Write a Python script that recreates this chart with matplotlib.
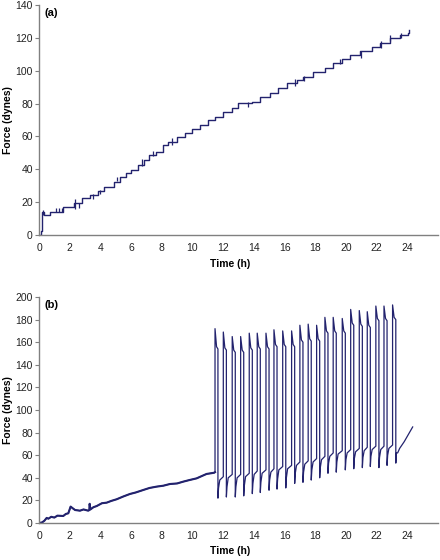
import numpy as np
import matplotlib
matplotlib.use("Agg")
import matplotlib.pyplot as plt

plt.rcParams['font.family'] = ['Liberation Sans', 'DejaVu Sans']

line_color = '#23236e'

# (a) staircase: time (h) where each step starts, force level (dynes)
t_steps = [0, 0.12, 0.22, 0.30, 0.72, 1.55, 2.3, 2.82, 3.32, 3.85, 4.26, 4.9, 5.3,
           5.7, 6.0, 6.43, 6.86, 7.19, 7.62, 8.05, 8.4, 8.97, 9.51, 9.95, 10.49,
           11.03, 11.47, 11.97, 12.55, 12.99, 13.85, 14.4, 15.05, 15.59, 16.14,
           16.79, 17.22, 17.87, 18.63, 19.17, 19.72, 20.26, 20.91, 21.67, 22.2,
           22.87, 23.52, 24.06, 24.12]
f_steps = [0, 2.6, 14.2, 12.2, 14.2, 17.2, 19.3, 22.5, 24.6, 26.7, 29.4, 32.4, 35.5,
           37.5, 39.6, 42.6, 45.6, 48.7, 50.7, 54.8, 56.8, 59.8, 61.9, 64.3, 67,
           70, 72, 75, 77.1, 80.1, 81.1, 84.2, 86.6, 89.3, 92.7,
           94.3, 96.3, 99.4, 101.4, 104.5, 106.9, 109.6, 112.2, 114.6, 117,
           119.7, 121.7, 123.1, 125]

# small spikes on the staircase
t_spikes = [0.25, 1.1, 1.3, 1.5, 2.35, 2.6, 3.5, 4.0, 5.1, 6.7, 7.4, 8.65,
            13.6, 16.7, 17.3, 19.6, 21.0, 22.3, 22.9, 23.6]
spike_lo = [12, 14, 14, 14, 16, 16.5, 22, 25, 33, 42, 48, 55,
            78, 91, 94, 104, 108, 114, 118, 120]
spike_hi = [15.5, 16.5, 16.5, 16.5, 22, 19.5, 25, 27.5, 35.5, 46, 51, 59,
            81, 95, 97, 107, 112, 118, 122, 123]

# (b) slow rise before oscillations
t_slow = [0, 0.2, 0.35, 0.5, 0.61, 0.8, 1.0, 1.2, 1.58, 1.75, 1.91, 2.06, 2.2,
          2.35, 2.67, 2.9, 3.21, 3.28, 3.3, 3.35, 3.55, 3.76, 4.1, 4.41, 4.7,
          5.06, 5.5, 5.93, 6.3, 6.79, 7.2, 7.67, 8.1, 8.53, 9.0, 9.4, 9.8,
          10.27, 10.6, 10.92, 11.2, 11.42, 11.47]
f_slow = [0, 0.5, 2, 4.5, 3.8, 5.5, 4.8, 6.5, 6.2, 8, 8.6, 14.5, 13,
          11.5, 10.9, 12, 10.9, 11.5, 17, 12, 14, 15, 17.5, 18, 19.5,
          21, 23.5, 25.7, 27, 29.2, 31, 32.2, 33, 34.5, 35, 36.6, 38,
          39.5, 41.5, 43.4, 44, 44.5, 45]

# (b) oscillation cycles
t_up = [11.47, 12.01, 12.59, 13.14, 13.70, 14.22, 14.79, 15.31, 15.88, 16.46, 17.00,
        17.54, 18.09, 18.63, 19.17, 19.76, 20.31, 20.87, 21.39, 21.95, 22.48, 23.04]
t_down = [11.66, 12.21, 12.79, 13.34, 13.90, 14.42, 14.99, 15.51, 16.08, 16.66, 17.20,
          17.74, 18.29, 18.83, 19.37, 19.96, 20.51, 21.07, 21.59, 22.15, 22.68, 23.25]
peak = [172, 169, 165, 165, 168, 168, 168, 171, 170, 170, 175,
        176, 175, 182, 182, 181, 189, 188, 187, 192, 192, 193]
shoulder = [156, 155, 153, 153, 155, 156, 156, 158, 158, 158, 162,
            163, 163, 170, 170, 170, 177, 176, 175, 181, 181, 182]
trough = [22, 23, 23, 24, 26, 27, 29, 30, 31, 35, 36,
          38, 40, 44, 45, 47, 48, 49, 50, 49, 51, 53]
recovered = [38, 40, 40, 41, 43, 44, 45, 47, 48, 51, 52,
             54, 56, 59, 61, 62, 63, 64, 65, 65, 66, 62]

# (b) final ramp after the last cycle
t_end = [23.5, 23.8, 24.1, 24.35]
f_end = [66, 72, 79, 85]

# build the oscillating trace
tb = list(t_slow)
fb = list(f_slow)
for i in range(len(t_up)):
    tb += [t_up[i], t_up[i] + 0.1, t_down[i], t_down[i], t_down[i] + 0.04, t_down[i] + 0.12]
    fb += [peak[i], shoulder[i], shoulder[i] - 2, trough[i], trough[i] + 9, recovered[i]]
    if i + 1 < len(t_up):
        tb += [t_up[i + 1]]
        fb += [recovered[i] + 3]
tb += t_end
fb += f_end

fig = plt.figure(figsize=(4.4, 5.6), dpi=100)
ax1 = fig.add_axes([39 / 440, 1 - 235 / 560, 399 / 440, 230 / 560])
ax2 = fig.add_axes([39 / 440, 1 - 523 / 560, 399 / 440, 226 / 560])

ax1.plot(t_steps, f_steps, drawstyle='steps-post', color=line_color, lw=1.0)
ax1.vlines(t_spikes, spike_lo, spike_hi, color=line_color, lw=0.9)
ax1.set_ylim(0, 140)
ax1.set_yticks(np.arange(0, 141, 20))

ax2.plot(tb, fb, color=line_color, lw=0.9)
ax2.plot(t_slow, f_slow, color=line_color, lw=1.5)
ax2.set_ylim(0, 200)
ax2.set_yticks(np.arange(0, 201, 20))

for ax, lab in [(ax1, '(a)'), (ax2, '(b)')]:
    ax.set_xlim(0, 26)
    ax.set_xticks(np.arange(0, 25, 2))
    for s in ['top', 'right']:
        ax.spines[s].set_visible(False)
    for s in ['left', 'bottom']:
        ax.spines[s].set_color('#808080')
        ax.spines[s].set_linewidth(1.0)
    ax.tick_params(axis='y', length=3, width=0.8, color='#808080', labelsize=7.5,
                   labelcolor='#222222', pad=1.5)
    ax.tick_params(axis='x', length=0, labelsize=7.5, labelcolor='#222222', pad=6)
    ax.set_xlabel('Time (h)', fontsize=7.5, fontweight='bold')
    ax.xaxis.set_label_coords(0.48, -0.105 if ax is ax1 else -0.1)
    ax.set_ylabel('Force (dynes)', fontsize=7.5, fontweight='bold')
    ax.yaxis.set_label_coords(-0.066, 0.5)
    ax.text(0.013, 0.985, lab, transform=ax.transAxes, fontsize=8, fontweight='bold',
            va='top', ha='left')

fig.savefig('out.png', dpi=100)
